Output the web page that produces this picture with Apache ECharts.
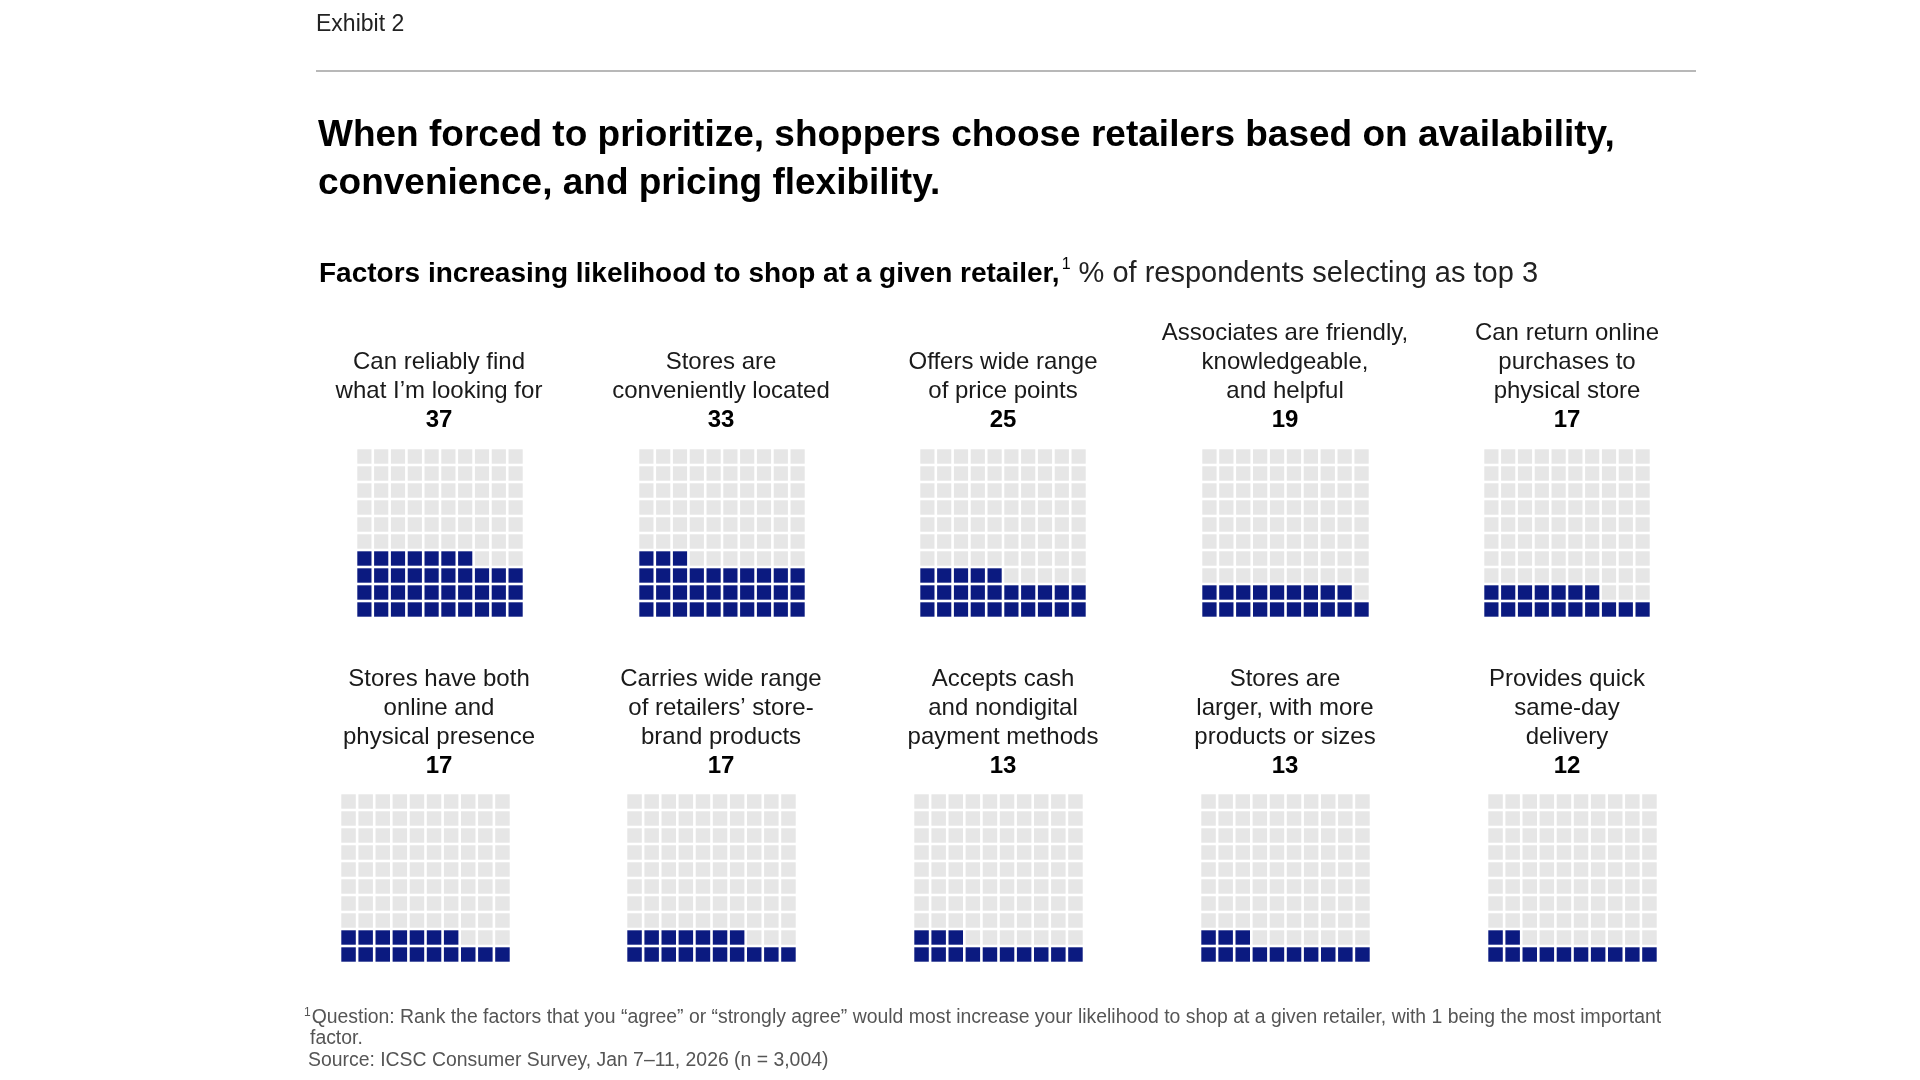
<!DOCTYPE html>
<html>
<head>
<meta charset="utf-8">
<script src="https://cdn.jsdelivr.net/npm/echarts@6/dist/echarts.min.js"></script>
<style>
html,body{margin:0;padding:0;background:#fff;}
#chart{width:1920px;height:1080px;}
</style>
</head>
<body>
<div id="chart"></div>
<script>
// ---- data ----
const factorLabels = [
  "Can reliably find\nwhat I\u2019m looking for",
  "Stores are\nconveniently located",
  "Offers wide range\nof price points",
  "Associates are friendly,\nknowledgeable,\nand helpful",
  "Can return online\npurchases to\nphysical store",
  "Stores have both\nonline and\nphysical presence",
  "Carries wide range\nof retailers\u2019 store-\nbrand products",
  "Accepts cash\nand nondigital\npayment methods",
  "Stores are\nlarger, with more\nproducts or sizes",
  "Provides quick\nsame-day\ndelivery"
];
const factorValues = [37, 33, 25, 19, 17, 17, 17, 13, 13, 12];
const cellsPerRow = 10;
const rowsPerGrid = 10;

// ---- layout (pixels) ----
const gridBoxes = [
  {l:356, t:448, w:168, h:170}, {l:638, t:448, w:168, h:170}, {l:919, t:448, w:168, h:170},
  {l:1201, t:448, w:169, h:170}, {l:1483, t:448, w:168, h:170},
  {l:340, t:793, w:171, h:170}, {l:626, t:793, w:171, h:170}, {l:913, t:793, w:171, h:170},
  {l:1200, t:793, w:171, h:170}, {l:1487, t:793, w:171, h:170}
];
const labelX = [439, 721, 1003, 1285, 1567];
const NAVY = '#0b1a80';
const GRAY = '#e6e6e6';
const FONT = '"Liberation Sans", Arial, Helvetica, sans-serif';

const chart = echarts.init(document.getElementById('chart'));

const grids = [], xAxes = [], yAxes = [], series = [];
factorValues.forEach((v, k) => {
  const b = gridBoxes[k];
  grids.push({left: b.l, top: b.t, width: b.w, height: b.h, containLabel: false});
  xAxes.push({type: 'value', gridIndex: k, min: 0, max: cellsPerRow, show: false});
  yAxes.push({type: 'value', gridIndex: k, min: 0, max: rowsPerGrid, show: false});
  const cells = [];
  for (let r = 0; r < rowsPerGrid; r++) {
    for (let c = 0; c < cellsPerRow; c++) {
      const idx = r * cellsPerRow + c;
      cells.push([c, r, idx < v ? 1 : 0]);
    }
  }
  series.push({
    type: 'custom',
    xAxisIndex: k, yAxisIndex: k,
    silent: true,
    data: cells,
    renderItem: function (params, api) {
      const x = api.value(0), y = api.value(1), f = api.value(2);
      const p = api.coord([x, y + 1]);
      const s = api.size([1, 1]);
      const gap = 2.6;
      return {
        type: 'rect',
        shape: {x: p[0] + gap / 2, y: p[1] + gap / 2, width: s[0] - gap, height: s[1] - gap},
        style: {fill: f ? NAVY : GRAY}
      };
    }
  });
});

const graphics = [];
graphics.push({type: 'text', x: 316, y: 25,
  style: {text: 'Exhibit 2', font: '23px ' + FONT, fill: '#222', textVerticalAlign: 'middle'}});
graphics.push({type: 'line', shape: {x1: 316, y1: 71, x2: 1696, y2: 71},
  style: {stroke: '#a0a0a0', lineWidth: 1.5}});
graphics.push({type: 'text', x: 318, y: 112,
  style: {text: 'When forced to prioritize, shoppers choose retailers based on availability,\nconvenience, and pricing flexibility.',
    font: 'bold 37px ' + FONT, fill: '#000', lineHeight: 48, textVerticalAlign: 'top'}});
graphics.push({type: 'text', x: 319, y: 274,
  style: {
    text: '{b|Factors increasing likelihood to shop at a given retailer,}{s|1}{r| % of respondents selecting as top 3}',
    textVerticalAlign: 'middle',
    rich: {
      b: {font: 'bold 28px ' + FONT, fill: '#000', lineHeight: 34, verticalAlign: 'middle'},
      s: {font: '16px ' + FONT, fill: '#000', lineHeight: 34, verticalAlign: 'top', padding: [0, 0, 12, 2]},
      r: {font: '29px ' + FONT, fill: '#222', lineHeight: 34, verticalAlign: 'middle'}
    }
  }});

factorLabels.forEach((lab, k) => {
  const row = k < 5 ? 0 : 1;
  const cx = labelX[k % 5];
  const bottomY = row === 0 ? 406 : 752;
  const numY = row === 0 ? 420 : 766;
  graphics.push({type: 'text', x: cx, y: bottomY,
    style: {text: lab, font: '24px ' + FONT, fill: '#1a1a1a', lineHeight: 29,
      textAlign: 'center', textVerticalAlign: 'bottom'}});
  graphics.push({type: 'text', x: cx, y: numY,
    style: {text: String(factorValues[k]), font: 'bold 24px ' + FONT, fill: '#000',
      textAlign: 'center', textVerticalAlign: 'middle'}});
});

graphics.push({type: 'text', x: 304, y: 1018,
  style: {
    text: '{s|1}{t|Question: Rank the factors that you \u201cagree\u201d or \u201cstrongly agree\u201d would most increase your likelihood to shop at a given retailer, with 1 being the most important}',
    textVerticalAlign: 'middle',
    rich: {
      s: {font: '12px ' + FONT, fill: '#555', verticalAlign: 'top', lineHeight: 22, padding: [0, 1, 8, 0]},
      t: {font: '19.4px ' + FONT, fill: '#555', lineHeight: 22}
    }
  }});
graphics.push({type: 'text', x: 310, y: 1039,
  style: {text: 'factor.', font: '19.4px ' + FONT, fill: '#555', textVerticalAlign: 'middle'}});
graphics.push({type: 'text', x: 308, y: 1061,
  style: {text: 'Source: ICSC Consumer Survey, Jan 7\u201311, 2026 (n = 3,004)', font: '19.4px ' + FONT, fill: '#555', textVerticalAlign: 'middle'}});

chart.setOption({
  backgroundColor: '#ffffff',
  animation: false,
  grid: grids,
  xAxis: xAxes,
  yAxis: yAxes,
  series: series,
  graphic: graphics
});
</script>
</body>
</html>
